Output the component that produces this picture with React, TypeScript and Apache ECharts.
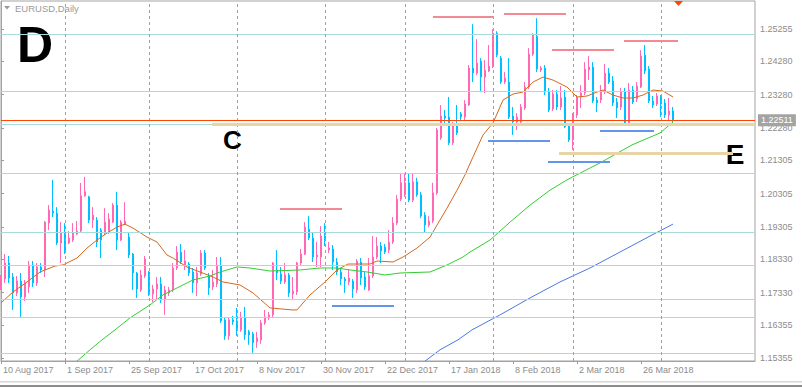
import React, { useEffect, useRef } from "react";
import * as echarts from "echarts";

// ---- axis ticks / labels ----
const xTickIndex = [0, 16, 32, 48, 64, 80, 96, 112, 128, 144, 160];
const xTickLabels = [
  "10 Aug 2017", "1 Sep 2017", "25 Sep 2017", "17 Oct 2017", "8 Nov 2017", "30 Nov 2017",
  "22 Dec 2017", "17 Jan 2018", "8 Feb 2018", "2 Mar 2018", "26 Mar 2018",
];
const monthStartIndex = [16, 37, 59, 81, 101, 123, 143, 165];
const yTickValues = [1.25255, 1.2428, 1.2328, 1.2228, 1.21305, 1.20305, 1.19305, 1.1833, 1.1733, 1.16355, 1.15355];

// ---- daily candles: [open, high, low, close] ----
const ohlc: number[][] = [
  [1.1756, 1.1786, 1.1741, 1.1771], [1.1774, 1.1849, 1.1762, 1.1822], [1.1822, 1.1843, 1.1762, 1.1777],
  [1.1780, 1.1792, 1.1681, 1.1732], [1.1732, 1.1783, 1.1723, 1.1768], [1.1768, 1.1792, 1.1660, 1.1720],
  [1.1720, 1.1771, 1.1708, 1.1762], [1.1750, 1.1828, 1.1732, 1.1816], [1.1816, 1.1828, 1.1750, 1.1762],
  [1.1762, 1.1822, 1.1753, 1.1810], [1.1810, 1.1822, 1.1792, 1.1801], [1.1801, 1.1948, 1.1780, 1.1945],
  [1.1942, 1.1996, 1.1921, 1.1981], [1.1978, 1.2072, 1.1960, 1.1972], [1.1972, 1.1990, 1.1876, 1.1882],
  [1.1882, 1.1945, 1.1822, 1.1912], [1.1909, 1.1942, 1.1849, 1.1855], [1.1882, 1.1918, 1.1879, 1.1897],
  [1.1891, 1.1942, 1.1885, 1.1912], [1.1909, 1.1948, 1.1906, 1.1918], [1.1918, 1.2063, 1.1912, 1.2024],
  [1.2024, 1.2081, 1.2021, 1.2036], [1.2021, 1.2024, 1.1942, 1.1951], [1.1951, 1.1990, 1.1927, 1.1966],
  [1.1951, 1.1960, 1.1870, 1.1885], [1.1921, 1.1927, 1.1837, 1.1891], [1.1912, 1.1987, 1.1906, 1.1945],
  [1.1915, 1.1972, 1.1909, 1.1954], [1.1945, 1.2002, 1.1942, 1.1996], [1.1996, 1.2036, 1.1861, 1.1891],
  [1.1891, 1.1951, 1.1888, 1.1945], [1.1939, 1.2005, 1.1936, 1.1948], [1.1900, 1.1912, 1.1837, 1.1846],
  [1.1849, 1.1852, 1.1741, 1.1792], [1.1792, 1.1795, 1.1717, 1.1744], [1.1741, 1.1801, 1.1735, 1.1786],
  [1.1783, 1.1843, 1.1777, 1.1834], [1.1795, 1.1798, 1.1723, 1.1729], [1.1729, 1.1756, 1.1705, 1.1744],
  [1.1744, 1.1780, 1.1711, 1.1759], [1.1759, 1.1780, 1.1702, 1.1711], [1.1711, 1.1753, 1.1666, 1.1741],
  [1.1732, 1.1750, 1.1723, 1.1741], [1.1741, 1.1822, 1.1735, 1.1807], [1.1807, 1.1873, 1.1801, 1.1855],
  [1.1855, 1.1879, 1.1819, 1.1825], [1.1813, 1.1861, 1.1801, 1.1828], [1.1819, 1.1825, 1.1783, 1.1792],
  [1.1795, 1.1807, 1.1732, 1.1762], [1.1762, 1.1810, 1.1723, 1.1792], [1.1789, 1.1861, 1.1783, 1.1852],
  [1.1852, 1.1861, 1.1801, 1.1807], [1.1783, 1.1792, 1.1726, 1.1747], [1.1750, 1.1801, 1.1741, 1.1765],
  [1.1759, 1.1840, 1.1750, 1.1816], [1.1813, 1.1840, 1.1642, 1.1648], [1.1651, 1.1657, 1.1591, 1.1603],
  [1.1603, 1.1657, 1.1591, 1.1651], [1.1651, 1.1663, 1.1636, 1.1645], [1.1648, 1.1687, 1.1603, 1.1621],
  [1.1621, 1.1675, 1.1615, 1.1657], [1.1657, 1.1690, 1.1591, 1.1606], [1.1615, 1.1621, 1.1576, 1.1606],
  [1.1609, 1.1615, 1.1552, 1.1582], [1.1585, 1.1615, 1.1567, 1.1597], [1.1591, 1.1651, 1.1579, 1.1642],
  [1.1642, 1.1681, 1.1636, 1.1660], [1.1657, 1.1675, 1.1651, 1.1666], [1.1666, 1.1825, 1.1657, 1.1822],
  [1.1801, 1.1861, 1.1771, 1.1792], [1.1789, 1.1810, 1.1759, 1.1768], [1.1765, 1.1822, 1.1759, 1.1786],
  [1.1786, 1.1792, 1.1720, 1.1732], [1.1729, 1.1780, 1.1711, 1.1738], [1.1735, 1.1825, 1.1726, 1.1822],
  [1.1822, 1.1864, 1.1813, 1.1849], [1.1849, 1.1945, 1.1846, 1.1930], [1.1924, 1.1963, 1.1891, 1.1897],
  [1.1897, 1.1915, 1.1825, 1.1840], [1.1840, 1.1885, 1.1810, 1.1846], [1.1840, 1.1933, 1.1810, 1.1903],
  [1.1903, 1.1942, 1.1873, 1.1891], [1.1861, 1.1885, 1.1852, 1.1867], [1.1864, 1.1876, 1.1801, 1.1825],
  [1.1825, 1.1837, 1.1786, 1.1795], [1.1795, 1.1807, 1.1756, 1.1774], [1.1774, 1.1780, 1.1732, 1.1768],
  [1.1765, 1.1804, 1.1756, 1.1777], [1.1768, 1.1774, 1.1717, 1.1744], [1.1741, 1.1834, 1.1732, 1.1828],
  [1.1825, 1.1837, 1.1756, 1.1777], [1.1780, 1.1795, 1.1741, 1.1750], [1.1741, 1.1837, 1.1738, 1.1783],
  [1.1783, 1.1903, 1.1777, 1.1840], [1.1840, 1.1900, 1.1834, 1.1873], [1.1873, 1.1885, 1.1822, 1.1858],
  [1.1870, 1.1879, 1.1849, 1.1855], [1.1861, 1.1921, 1.1852, 1.1885], [1.1885, 1.1960, 1.1879, 1.1942],
  [1.1942, 1.2027, 1.1936, 1.2014], [1.2014, 1.2093, 1.2008, 1.2063], [1.2027, 1.2093, 1.2021, 1.2063],
  [1.2063, 1.2090, 1.2005, 1.2011], [1.2011, 1.2093, 1.2005, 1.2066], [1.2066, 1.2078, 1.2021, 1.2027],
  [1.2027, 1.2036, 1.1957, 1.1963], [1.1966, 1.1975, 1.1912, 1.1936], [1.1936, 1.1963, 1.1930, 1.1948],
  [1.1948, 1.2063, 1.1942, 1.2033], [1.2033, 1.2228, 1.2027, 1.2222], [1.2198, 1.2297, 1.2192, 1.2264],
  [1.2264, 1.2282, 1.2237, 1.2258], [1.2261, 1.2321, 1.2177, 1.2183], [1.2183, 1.2246, 1.2177, 1.2237],
  [1.2237, 1.2297, 1.2207, 1.2213], [1.2270, 1.2276, 1.2252, 1.2261], [1.2261, 1.2312, 1.2252, 1.2300],
  [1.2297, 1.2417, 1.2294, 1.2408], [1.2408, 1.2540, 1.2366, 1.2393], [1.2393, 1.2495, 1.2387, 1.2423],
  [1.2429, 1.2438, 1.2339, 1.2381], [1.2381, 1.2432, 1.2333, 1.2402], [1.2399, 1.2477, 1.2396, 1.2414],
  [1.2414, 1.2525, 1.2408, 1.2513], [1.2513, 1.2519, 1.2441, 1.2447], [1.2438, 1.2444, 1.2360, 1.2366],
  [1.2366, 1.2396, 1.2360, 1.2378], [1.2366, 1.2438, 1.2255, 1.2261], [1.2264, 1.2291, 1.2207, 1.2246],
  [1.2246, 1.2273, 1.2222, 1.2261], [1.2246, 1.2300, 1.2243, 1.2291], [1.2288, 1.2366, 1.2282, 1.2351],
  [1.2351, 1.2468, 1.2345, 1.2450], [1.2450, 1.2513, 1.2444, 1.2507], [1.2504, 1.2558, 1.2396, 1.2405],
  [1.2402, 1.2414, 1.2396, 1.2408], [1.2408, 1.2417, 1.2327, 1.2336], [1.2336, 1.2348, 1.2276, 1.2282],
  [1.2285, 1.2342, 1.2279, 1.2330], [1.2330, 1.2342, 1.2282, 1.2291], [1.2291, 1.2354, 1.2282, 1.2318],
  [1.2321, 1.2342, 1.2228, 1.2231], [1.2234, 1.2243, 1.2186, 1.2192], [1.2192, 1.2273, 1.2162, 1.2267],
  [1.2267, 1.2327, 1.2258, 1.2321], [1.2321, 1.2357, 1.2288, 1.2333], [1.2333, 1.2426, 1.2327, 1.2405],
  [1.2402, 1.2444, 1.2372, 1.2411], [1.2411, 1.2426, 1.2303, 1.2309], [1.2312, 1.2321, 1.2276, 1.2303],
  [1.2312, 1.2357, 1.2303, 1.2336], [1.2336, 1.2420, 1.2330, 1.2393], [1.2393, 1.2408, 1.2360, 1.2366],
  [1.2369, 1.2384, 1.2294, 1.2303], [1.2306, 1.2318, 1.2258, 1.2288], [1.2291, 1.2348, 1.2282, 1.2336],
  [1.2336, 1.2348, 1.2237, 1.2243], [1.2243, 1.2363, 1.2240, 1.2342], [1.2342, 1.2354, 1.2300, 1.2306],
  [1.2315, 1.2366, 1.2306, 1.2354], [1.2351, 1.2462, 1.2348, 1.2444], [1.2447, 1.2477, 1.2390, 1.2399],
  [1.2405, 1.2414, 1.2303, 1.2309], [1.2309, 1.2324, 1.2288, 1.2297], [1.2300, 1.2333, 1.2294, 1.2324],
  [1.2324, 1.2327, 1.2261, 1.2300], [1.2303, 1.2315, 1.2258, 1.2267], [1.2267, 1.2318, 1.2252, 1.2279],
  [1.2279, 1.2291, 1.2234, 1.22511],
];

// ---- moving averages: [bar index, price] ----
const maOrange: number[][] = [
  [0, 1.1702], [3, 1.1735], [6.5, 1.1765], [9.75, 1.1795], [13.5, 1.1813], [15.5, 1.1816], [19, 1.1837],
  [21.5, 1.1867], [24, 1.1891], [26.5, 1.1912], [29, 1.193], [31, 1.1939], [33, 1.1927], [36.5, 1.19],
  [39, 1.1885], [41.5, 1.1846], [43, 1.1837], [46.5, 1.181], [49.75, 1.1795], [53, 1.178], [55.5, 1.1765],
  [59.75, 1.1756], [63, 1.1732], [67.25, 1.1687], [72.75, 1.1681], [74, 1.1681], [77.25, 1.1726],
  [81, 1.1765], [84, 1.1801], [86.75, 1.1819], [92.25, 1.1819], [94, 1.1828], [98, 1.1825],
  [100.5, 1.184], [104, 1.1867], [107.25, 1.19], [109, 1.1936], [111.5, 1.1987], [114, 1.2041],
  [116, 1.2087], [118, 1.2141], [120.5, 1.2207], [123, 1.2243], [125.5, 1.2312], [128, 1.233],
  [130.5, 1.2336], [133, 1.2366], [135.5, 1.2381], [138, 1.2372], [141.5, 1.2351], [144, 1.2321],
  [146.5, 1.2324], [149, 1.2336], [150.5, 1.2342], [153, 1.2327], [155.5, 1.2318], [158, 1.2318],
  [160.5, 1.2327], [163, 1.2342], [165.5, 1.2339], [168, 1.2321],
];
const maGreen: number[][] = [
  [19, 1.1527], [22.25, 1.1561], [25.25, 1.1591], [28.5, 1.1621], [32.25, 1.1657], [37.25, 1.1696],
  [40.5, 1.1726], [44, 1.1747], [48, 1.1771], [52.25, 1.1783], [54.75, 1.1795], [59, 1.181],
  [62.25, 1.1807], [67.25, 1.1798], [74.75, 1.1801], [79.75, 1.1807], [84, 1.1807], [87.25, 1.1801],
  [91.5, 1.1795], [96, 1.1786], [99.75, 1.1792], [107.25, 1.1795], [111.5, 1.1816], [115.5, 1.184],
  [117.25, 1.1855], [122.25, 1.1891], [127.25, 1.1945], [132.25, 1.1996], [137.25, 1.2041],
  [141.5, 1.2072], [149.75, 1.2123], [157.75, 1.2177], [164.75, 1.2213], [168, 1.2246],
];
const maBlue: number[][] = [
  [106, 1.1527], [109.75, 1.1561], [114.25, 1.1591], [117.75, 1.1621], [124.75, 1.1666],
  [132.25, 1.1717], [139.75, 1.1765], [147.25, 1.1807], [154.75, 1.1855], [162.25, 1.1903], [168, 1.1939],
];

// ---- drawn objects: horizontal levels and segments [fromIndex, toIndex, price] ----
const cyanLevels = [1.25105, 1.23382, 1.22399, 1.20917, 1.19143, 1.18151, 1.17129, 1.16588, 1.15505];
const currentPrice = 1.22511;
const resistanceSegments = [
  [108, 123.25, 1.2563], [125.75, 141.25, 1.2572], [137.75, 153.25, 1.2463], [155.75, 169.25, 1.2489],
  [69.75, 85.25, 1.1984],
];
const supportSegments = [
  [121.75, 137.25, 1.219], [136.75, 152.25, 1.2126], [149.75, 163.25, 1.2219], [82.75, 98.25, 1.1694],
];
const zoneSegments = [
  [52.75, 188.5, 1.2238],
  [139.5, 183, 1.2152],
];

const X_MAX = 188.5;
const Y_MIN = 1.15274;
const Y_MAX = 1.26097;
const FONT = '"Liberation Sans", Arial, sans-serif';

export default function App() {
  const ref = useRef<HTMLDivElement>(null);
  useEffect(() => {
    if (!ref.current) return;
    const chart = echarts.init(ref.current, undefined, { renderer: "svg" });

    const candleData = ohlc.map((r, i) => [i, r[0], r[3], r[2], r[1]]);
    const seg = (s: number[], color: string, width: number) => [
      { coord: [s[0], s[2]], lineStyle: { color, width, type: "solid" } },
      { coord: [s[1], s[2]] },
    ];

    const option: any = {
      animation: false,
      backgroundColor: "#ffffff",
      grid: {
        left: 1, right: 47, top: 1, bottom: 26, show: true,
        borderColor: "#a3a3a3", borderWidth: 1, backgroundColor: "transparent",
      },
      xAxis: {
        type: "value", min: 0, max: X_MAX,
        axisLine: { show: true, onZero: false, lineStyle: { color: "#a3a3a3" } },
        splitLine: { show: false },
        axisTick: { show: true, customValues: xTickIndex, length: 3, lineStyle: { color: "#9a9a9a" } },
        axisLabel: {
          customValues: xTickIndex,
          formatter: (v: number) => {
            const k = xTickIndex.indexOf(Math.round(v));
            return k >= 0 ? xTickLabels[k] : "";
          },
          align: "left", margin: 4, padding: [0, 0, 0, 2],
          color: "#8c8c8c", fontSize: 9, fontFamily: FONT,
        },
      },
      yAxis: {
        type: "value", position: "right", min: Y_MIN, max: Y_MAX,
        axisLine: { show: true, lineStyle: { color: "#a3a3a3" } },
        splitLine: { show: false },
        axisTick: { show: true, customValues: yTickValues, length: 3, lineStyle: { color: "#9a9a9a" } },
        axisLabel: {
          customValues: yTickValues,
          formatter: (v: number) => v.toFixed(5),
          margin: 5, color: "#8c8c8c", fontSize: 9, fontFamily: FONT,
        },
      },
      series: [
        {
          type: "line", name: "levels", data: [[0, 1.2]], symbol: "none", silent: true, z: 1,
          lineStyle: { opacity: 0 },
          markLine: {
            silent: true, symbol: ["none", "none"], label: { show: false }, animation: false, precision: 6,
            data: [
              ...cyanLevels.map((p) => ({ yAxis: p, lineStyle: { color: "#a8dcdc", width: 1, type: "solid" } })),
              ...monthStartIndex.map((i) => ({ xAxis: i, lineStyle: { color: "#a0a0a0", width: 1, type: [3, 3] } })),
            ],
          },
        },
        {
          type: "candlestick", name: "EURUSD", data: candleData, z: 2, barWidth: 2,
          encode: { x: 0, y: [1, 2, 3, 4] },
          itemStyle: {
            color: "#ff69b4", color0: "#00bfff",
            borderColor: "#ff69b4", borderColor0: "#00bfff", borderWidth: 1,
          },
        },
        { type: "line", name: "MA fast", data: maOrange, symbol: "none", z: 3, lineStyle: { color: "#d2691e", width: 1 } },
        { type: "line", name: "MA mid", data: maGreen, symbol: "none", z: 3, lineStyle: { color: "#32cd32", width: 1 } },
        { type: "line", name: "MA slow", data: maBlue, symbol: "none", z: 3, lineStyle: { color: "#4a78e6", width: 1 } },
        {
          type: "line", name: "objects", data: [[0, 1.2]], symbol: "none", silent: true, z: 4,
          lineStyle: { opacity: 0 },
          markLine: {
            silent: true, symbol: ["none", "none"], label: { show: false }, animation: false, precision: 6,
            data: [
              ...zoneSegments.map((s) => seg(s, "#e7d5a6", 3)),
              ...resistanceSegments.map((s) => seg(s, "#f28a96", 2)),
              ...supportSegments.map((s) => seg(s, "#6495ed", 2)),
              {
                yAxis: currentPrice,
                lineStyle: { color: "#ff4500", width: 1, type: "solid" },
                label: {
                  show: true, position: "end", distance: 3, formatter: currentPrice.toFixed(5),
                  color: "#ffffff", backgroundColor: "#a3a3a3", padding: [2, 3, 1, 3],
                  fontSize: 9, fontFamily: FONT,
                },
              },
            ],
          },
        },
      ],
      graphic: [
        { type: "polygon", shape: { points: [[4, 6], [10, 6], [7, 9.5]] }, style: { fill: "#9a9a9a" } },
        { type: "text", x: 15, y: 8.5, style: { text: "EURUSD,Daily", fill: "#9a9a9a", fontSize: 9.5, fontFamily: FONT, textVerticalAlign: "middle" } },
        { type: "text", x: 17, y: 45, style: { text: "D", fill: "#000000", fontSize: 50, fontWeight: "bold", fontFamily: FONT, textVerticalAlign: "middle" } },
        { type: "text", x: 232.5, y: 140, style: { text: "C", fill: "#000000", fontSize: 26, fontWeight: "bold", fontFamily: FONT, textAlign: "center", textVerticalAlign: "middle" } },
        { type: "text", x: 735, y: 154.5, style: { text: "E", fill: "#000000", fontSize: 28, fontWeight: "bold", fontFamily: FONT, textAlign: "center", textVerticalAlign: "middle" } },
        { type: "polygon", shape: { points: [[674, 1], [683, 1], [678.5, 6]] }, style: { fill: "#ff4500" } },
        { type: "rect", shape: { x: 0, y: 381, width: 802, height: 1.5 }, style: { fill: "#d6d6d6" } },
        { type: "rect", shape: { x: 0, y: 385, width: 802, height: 2 }, style: { fill: "#8c8c8c" } },
      ],
    };
    chart.setOption(option);
    return () => chart.dispose();
  }, []);
  return (
    <div
      ref={ref}
      style={{ position: "absolute", left: 0, top: 0, width: 802, height: 387, background: "#fff" }}
    />
  );
}
